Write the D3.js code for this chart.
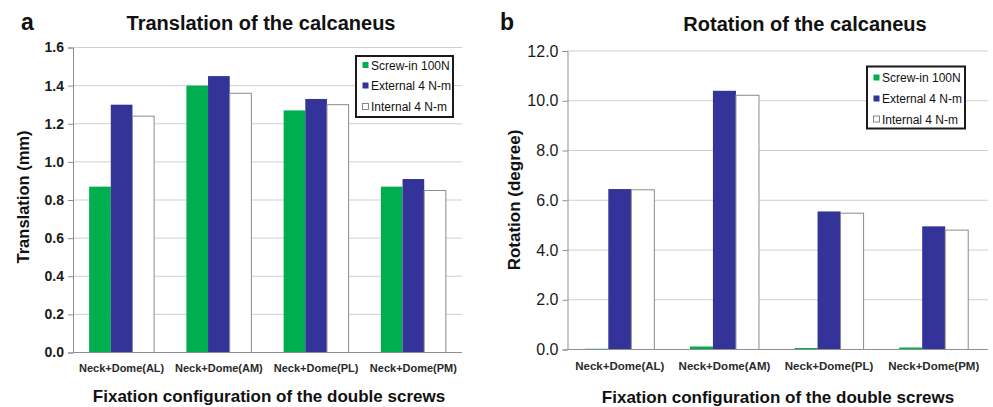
<!DOCTYPE html>
<html>
<head>
<meta charset="utf-8">
<script src="https://cdn.jsdelivr.net/npm/d3@7/dist/d3.min.js"></script>
<style>
  html, body { margin: 0; padding: 0; background: #fff; }
  svg { display: block; font-family: "Liberation Sans", Arial, sans-serif; }
</style>
</head>
<body>
<svg id="chart" width="993" height="407"></svg>
<script>
const categories = ["Neck+Dome(AL)", "Neck+Dome(AM)", "Neck+Dome(PL)", "Neck+Dome(PM)"];
const seriesNames = ["Screw-in 100N", "External 4 N-m", "Internal 4 N-m"];
const translationScrewIn = [0.87, 1.40, 1.27, 0.87];
const translationExternal = [1.30, 1.45, 1.33, 0.91];
const translationInternal = [1.24, 1.36, 1.30, 0.85];
const rotationScrewIn = [0.03, 0.12, 0.06, 0.08];
const rotationExternal = [6.45, 10.40, 5.55, 4.95];
const rotationInternal = [6.42, 10.22, 5.48, 4.80];
const translationTicks = [0, 0.2, 0.4, 0.6, 0.8, 1.0, 1.2, 1.4, 1.6];
const rotationTicks = [0, 2, 4, 6, 8, 10, 12];

const colors = ["#00ad4f", "#333399", "#ffffff"];
const svg = d3.select("#chart");

function panel(cfg) {
  const g = svg.append("g");
  const y = d3.scaleLinear().domain([0, cfg.max]).range([cfg.bottom, cfg.top]);
  const x0 = d3.scaleBand().domain(categories).range([cfg.left, cfg.right])
    .paddingInner(cfg.pad).paddingOuter(cfg.pad / 2);
  const x1 = d3.scaleBand().domain(seriesNames).range([0, x0.bandwidth()]);

  // gridlines
  g.append("g").selectAll("line").data(cfg.ticks.filter(d => d > 0)).join("line")
    .attr("x1", cfg.left).attr("x2", cfg.gridRight)
    .attr("y1", d => y(d)).attr("y2", d => y(d))
    .attr("stroke", "#cfcfcf").attr("stroke-width", 1);

  // bars
  const data = categories.map((c, i) => ({ c, vals: cfg.series.map((s, j) => ({ name: seriesNames[j], v: s[i], j })) }));
  const grp = g.append("g").selectAll("g").data(data).join("g")
    .attr("transform", d => `translate(${x0(d.c)},0)`);
  grp.selectAll("rect").data(d => d.vals).join("rect")
    .attr("x", d => x1(d.name))
    .attr("width", x1.bandwidth())
    .attr("y", d => y(d.v))
    .attr("height", d => cfg.bottom - y(d.v))
    .attr("fill", d => colors[d.j])
    .attr("stroke", d => d.j === 2 ? "#8a8a8a" : "none")
    .attr("stroke-width", 1);

  // y axis
  const yAxis = d3.axisLeft(y).tickValues(cfg.ticks).tickSize(5).tickPadding(4)
    .tickFormat(d3.format(cfg.fmt));
  const ya = g.append("g").attr("transform", `translate(${cfg.left},0)`).call(yAxis);
  ya.select(".domain").attr("stroke", "#8f8f8f");
  ya.selectAll(".tick line").attr("stroke", "#8f8f8f");
  ya.selectAll(".tick text").attr("fill", "#1a1a1a").style("font-size", cfg.tickFont + "px")
    .style("font-weight", cfg.tickWeight).style("font-family", "'Liberation Sans', Arial, sans-serif");

  // x axis baseline
  const xAxis = d3.axisBottom(x0).tickSize(0).tickPadding(12);
  const xa = g.append("g").attr("transform", `translate(0,${cfg.bottom})`).call(xAxis);
  xa.select(".domain").attr("stroke", "#8f8f8f").attr("d", `M${cfg.left},0H${cfg.gridRight}`);
  xa.selectAll(".tick text").attr("fill", "#2a2a2a").style("font-size", cfg.catFont + "px")
    .style("font-weight", "bold").style("font-family", "'Liberation Sans', Arial, sans-serif")
    .attr("dy", "0.71em");

  // titles
  g.append("text").attr("x", cfg.titleX).attr("y", cfg.titleY).attr("text-anchor", "middle")
    .style("font-size", "20px").style("font-weight", "bold").attr("fill", "#111").text(cfg.title);
  g.append("text").attr("x", cfg.letterX).attr("y", 30)
    .style("font-size", "23px").style("font-weight", "bold").attr("fill", "#111").text(cfg.letter);
  g.append("text").attr("transform", `translate(${cfg.yTitleX},${cfg.yTitleY}) rotate(-90)`)
    .attr("text-anchor", "middle").style("font-size", cfg.yTitleFont + "px").style("font-weight", "bold")
    .attr("fill", "#111").text(cfg.yTitle);
  g.append("text").attr("x", cfg.xTitleX).attr("y", cfg.xTitleY).attr("text-anchor", "middle")
    .style("font-size", "17px").style("font-weight", "bold").attr("fill", "#111")
    .text("Fixation configuration of the double screws");

  // legend
  const L = cfg.legend;
  const lg = g.append("g");
  lg.append("rect").attr("x", L.x).attr("y", L.y).attr("width", L.w).attr("height", L.h)
    .attr("fill", "#fff").attr("stroke", "#1a1a1a").attr("stroke-width", 2);
  seriesNames.forEach((n, i) => {
    const cy = L.rows[i];
    lg.append("rect").attr("x", L.x + 6.5).attr("y", cy - 3.5).attr("width", 6).attr("height", 6)
      .attr("fill", colors[i]).attr("stroke", i === 2 ? "#666" : "none").attr("stroke-width", 0.8);
    lg.append("text").attr("x", L.x + 15).attr("y", cy + 4.2)
      .style("font-size", "12px").attr("fill", "#111").text(n);
  });
}

panel({
  left: 73, right: 462, gridRight: 462, top: 47.5, bottom: 352.5, max: 1.6, pad: 0.332,
  ticks: translationTicks, fmt: ".1f", tickFont: 14, tickWeight: "bold", catFont: 11,
  series: [translationScrewIn, translationExternal, translationInternal],
  title: "Translation of the calcaneus", titleX: 261, titleY: 29.5,
  letter: "a", letterX: 21,
  yTitle: "Translation (mm)", yTitleX: 29, yTitleY: 197, yTitleFont: 16.5,
  xTitleX: 269, xTitleY: 402,
  legend: { x: 356, y: 56, w: 97, h: 61, rows: [65.5, 86, 107] }
});

panel({
  left: 567.5, right: 986, gridRight: 988, top: 51, bottom: 349.5, max: 12, pad: 0.34,
  ticks: rotationTicks, fmt: ".1f", tickFont: 16, tickWeight: "normal", catFont: 11.5,
  series: [rotationScrewIn, rotationExternal, rotationInternal],
  title: "Rotation of the calcaneus", titleX: 805, titleY: 30.5,
  letter: "b", letterX: 500,
  yTitle: "Rotation (degree)", yTitleX: 520, yTitleY: 200, yTitleFont: 17,
  xTitleX: 778, xTitleY: 403,
  legend: { x: 867, y: 66.5, w: 98, h: 62, rows: [78, 99, 119.5] }
});
</script>
</body>
</html>
